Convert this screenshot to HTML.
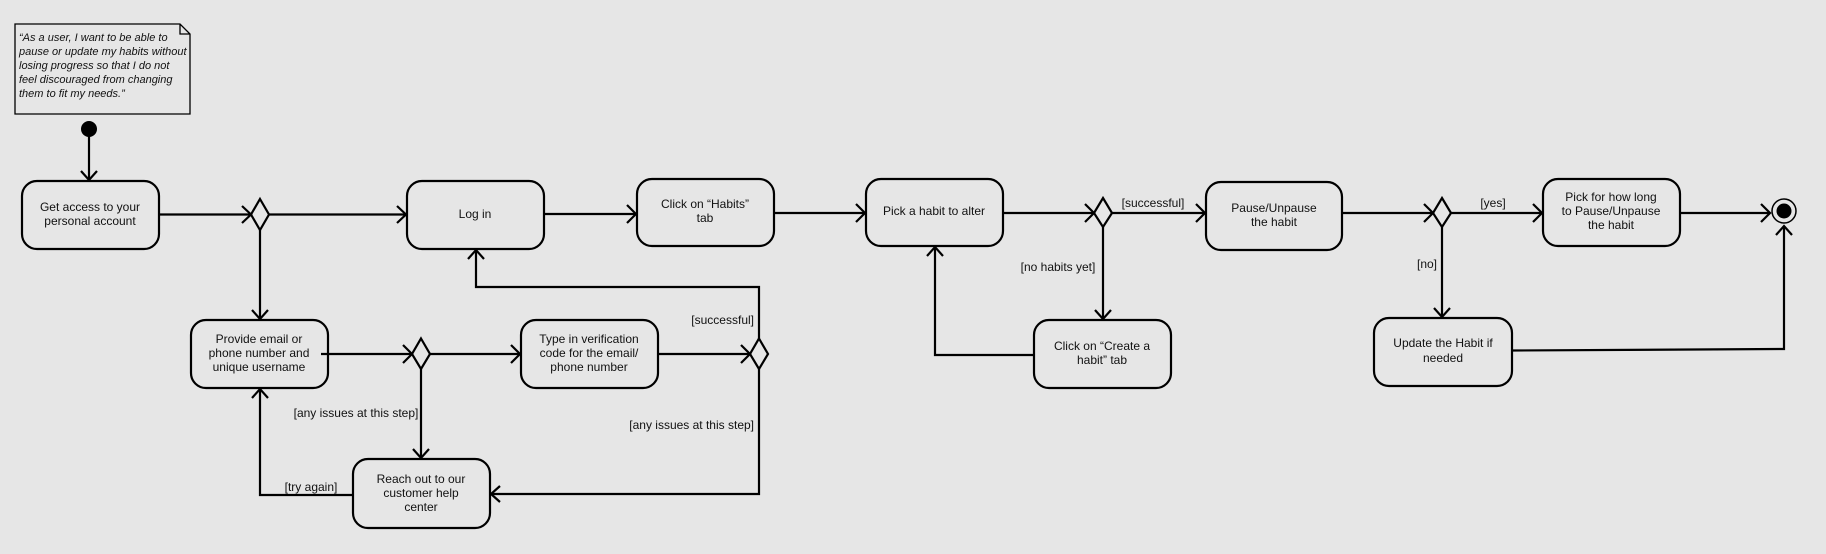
<!DOCTYPE html>
<html><head><meta charset="utf-8"><style>
html,body{margin:0;padding:0;background:#e6e6e6;}
svg{display:block;}
text{font-family:"Liberation Sans",sans-serif;font-size:12px;fill:#111;}
.c{text-anchor:middle;}
.r{text-anchor:end;}
.n{font-style:italic;font-size:11px;}
</style></head><body>
<svg width="1826" height="554" viewBox="0 0 1826 554" xmlns="http://www.w3.org/2000/svg">
<rect width="1826" height="554" fill="#e6e6e6"/>
<g fill="none" stroke="#000" stroke-width="2.2">
<path d="M15 24 H180 L190 34 V114 H15 Z M180 24 V34 H190" stroke-width="1.3"/>
<rect x="22" y="181" width="137" height="68" rx="15"/>
<rect x="407" y="181" width="137" height="68" rx="15"/>
<rect x="637" y="179" width="137" height="67" rx="15"/>
<rect x="866" y="179" width="137" height="67" rx="15"/>
<rect x="1206" y="182" width="136" height="68" rx="15"/>
<rect x="1543" y="179" width="137" height="67" rx="15"/>
<rect x="191" y="320" width="137" height="68" rx="15"/>
<rect x="521" y="320" width="137" height="68" rx="15"/>
<rect x="1034" y="320" width="137" height="68" rx="15"/>
<rect x="1374" y="318" width="138" height="68" rx="15"/>
<rect x="353" y="459" width="137" height="69" rx="15"/>
<path d="M260 199 L269 214.5 L260 230 L251 214.5 Z"/>
<path d="M421 338.5 L430 354 L421 369 L412 354 Z"/>
<path d="M759 338.5 L768 354 L759 369 L750 354 Z"/>
<path d="M1103 198 L1112 213 L1103 227 L1094 213 Z"/>
<path d="M1442 198 L1451 213 L1442 227 L1433 213 Z"/>
<path d="M89 136 V180"/>
<path d="M159 214.5 H251"/>
<path d="M269 214.5 H406"/>
<path d="M260 230 V319"/>
<path d="M544 214 H636"/>
<path d="M774 213 H865"/>
<path d="M1003 213 H1094"/>
<path d="M1112 213 H1205"/>
<path d="M1103 227 V319"/>
<path d="M1034 355 H935 V247"/>
<path d="M1342 213 H1433"/>
<path d="M1451 213 H1542"/>
<path d="M1442 227 V317"/>
<path d="M1680 213 H1770"/>
<path d="M1512 350.5 L1784 349 V226"/>
<path d="M321 354 H412"/>
<path d="M430 354 H520"/>
<path d="M421 369 V458"/>
<path d="M658 354 H750"/>
<path d="M759 338.5 V287 H476 V250"/>
<path d="M759 369 V494 H491"/>
<path d="M353 495 H260 V389"/>
<g stroke-width="2.2">
<path d="M81 171 L89 180 L97 171"/>
<path d="M242 206 L251 214.5 L242 223"/>
<path d="M397 206 L406 214.5 L397 223"/>
<path d="M627 205 L636 214 L627 223"/>
<path d="M856 204 L865 213 L856 222"/>
<path d="M1085 204 L1094 213 L1085 222"/>
<path d="M1196 204 L1205 213 L1196 222"/>
<path d="M1424 204 L1433 213 L1424 222"/>
<path d="M1533 204 L1542 213 L1533 222"/>
<path d="M1761 204 L1770 213 L1761 222"/>
<path d="M1095 310 L1103 319 L1111 310"/>
<path d="M1434 308 L1442 317 L1450 308"/>
<path d="M252 310 L260 319 L268 310"/>
<path d="M413 449 L421 458 L429 449"/>
<path d="M403 345 L412 354 L403 363"/>
<path d="M511 345 L520 354 L511 363"/>
<path d="M741 345 L750 354 L741 363"/>
<path d="M468 259 L476 250 L484 259"/>
<path d="M927 256 L935 247 L943 256"/>
<path d="M252 398 L260 389 L268 398"/>
<path d="M500 486 L491 494 L500 502"/>
<path d="M1776 235 L1784 226 L1792 235"/>
</g>
<circle cx="1784" cy="211" r="12" stroke-width="1.5"/>
</g>
<circle cx="89" cy="129" r="8" fill="#000"/>
<circle cx="1784" cy="211" r="7.5" fill="#000"/>
<text class="n" x="19" y="41">“As a user, I want to be able to</text>
<text class="n" x="19" y="55">pause or update my habits without</text>
<text class="n" x="19" y="69">losing progress so that I do not</text>
<text class="n" x="19" y="83">feel discouraged from changing</text>
<text class="n" x="19" y="97">them to fit my needs.”</text>
<text class="c" x="90" y="211">Get access to your</text>
<text class="c" x="90" y="225">personal account</text>
<text class="c" x="475" y="218">Log in</text>
<text class="c" x="705" y="208">Click on “Habits”</text>
<text class="c" x="705" y="222">tab</text>
<text class="c" x="934" y="215">Pick a habit to alter</text>
<text class="c" x="1274" y="212">Pause/Unpause</text>
<text class="c" x="1274" y="226">the habit</text>
<text class="c" x="1611" y="201">Pick for how long</text>
<text class="c" x="1611" y="215">to Pause/Unpause</text>
<text class="c" x="1611" y="229">the habit</text>
<text class="c" x="259" y="343">Provide email or</text>
<text class="c" x="259" y="357">phone number and</text>
<text class="c" x="259" y="371">unique username</text>
<text class="c" x="589" y="343">Type in verification</text>
<text class="c" x="589" y="357">code for the email/</text>
<text class="c" x="589" y="371">phone number</text>
<text class="c" x="1102" y="350">Click on “Create a</text>
<text class="c" x="1102" y="364">habit” tab</text>
<text class="c" x="1443" y="347">Update the Habit if</text>
<text class="c" x="1443" y="362">needed</text>
<text class="c" x="421" y="483">Reach out to our</text>
<text class="c" x="421" y="497">customer help</text>
<text class="c" x="421" y="511">center</text>
<text class="c" x="356" y="417">[any issues at this step]</text>
<text class="c" x="311" y="491">[try again]</text>
<text class="r" x="754" y="324">[successful]</text>
<text class="r" x="754" y="429">[any issues at this step]</text>
<text class="c" x="1153" y="207">[successful]</text>
<text class="c" x="1058" y="271">[no habits yet]</text>
<text class="c" x="1493" y="207">[yes]</text>
<text class="c" x="1427" y="268">[no]</text>
</svg>
</body></html>
